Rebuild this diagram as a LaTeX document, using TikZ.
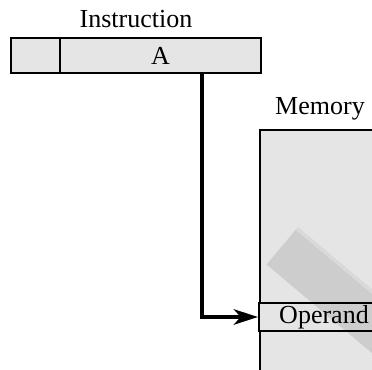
\documentclass[tikz,border=0pt]{standalone}
\usepackage{fontspec}
\setmainfont{Liberation Serif}
\usetikzlibrary{arrows.meta,positioning}

\definecolor{boxfill}{HTML}{E5E5E5}

\tikzset{
  label text/.style={font=\fontsize{19.5}{23}\selectfont, inner sep=0pt},
  field/.style={draw=black, line width=1.6pt, fill=boxfill, inner sep=0pt,
                font=\fontsize{19.5}{23}\selectfont},
  pointer/.style={line width=3pt, -{Stealth[length=18pt, width=11.5pt, inset=5pt]}},
}

\begin{document}
\begin{tikzpicture}[x=0.75pt, y=-0.75pt]
  \useasboundingbox (0,0) rectangle (372,370);
  \clip (0,0) rectangle (372,370);

  % instruction word: opcode field and address field
  \node[label text, anchor=base] (instrlabel) at (136,28) {Instruction};
  \node[field, minimum width=36.75pt, minimum height=26.25pt] (opfield) at (35.5,55.5) {};
  \node[field, minimum width=150.75pt, minimum height=26.25pt] (addrfield) at (160.5,55.5) {A};

  % memory block and the addressed word
  \node[label text, anchor=base] (memlabel) at (320,115) {Memory};
  \node[field, line width=1.8pt, anchor=north west, minimum width=105.75pt,
        minimum height=203.25pt] (memory) at (259,129) {};
  \node[field, minimum width=97.5pt, minimum height=21pt] (operand) at (324,317) {Operand};

  % address A points straight at the operand
  \coordinate (drop) at (202,0);
  \draw[pointer] (addrfield.south -| drop) |- (operand.west);

  % translucent diagonal band over the memory block
  \begin{scope}
    \clip (memory.north west) rectangle (400,400);
    \fill[black, opacity=0.05] (298,227) -- (527.8,419.9) -- (525.2,423.0) -- (295.4,230.1) -- cycle;
    \fill[black, opacity=0.1] (295.4,230.1) -- (525.2,423.0) -- (496.3,457.4) -- (266.5,264.5) -- cycle;
  \end{scope}
\end{tikzpicture}
\end{document}
